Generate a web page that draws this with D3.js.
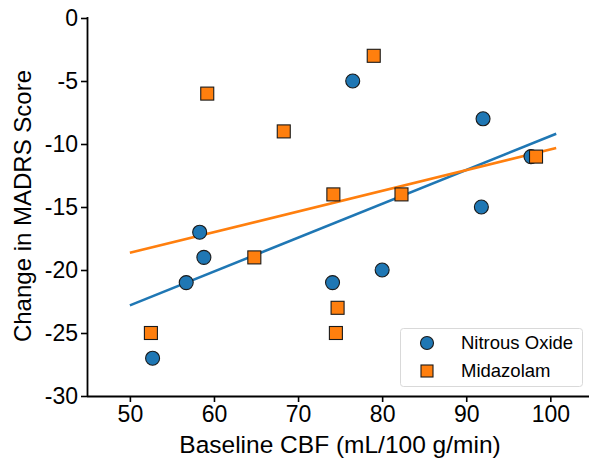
<!DOCTYPE html>
<html>
<head>
<meta charset="utf-8">
<script src="https://cdn.jsdelivr.net/npm/d3@7"></script>
<style>
  html, body { margin: 0; padding: 0; background: #fff; }
  svg { display: block; font-family: "Liberation Sans", Arial, sans-serif; }
</style>
</head>
<body>
<svg id="chart" width="589" height="458"></svg>
<script>
// Baseline CBF (mL/100 g/min) and change in MADRS score per participant
const nitrousCBF   = [52.7, 56.7, 58.3, 58.8, 74.1, 80.0, 76.5, 92.0, 91.8, 97.7];
const nitrousMADRS = [-27, -21, -17, -19, -21, -20, -5, -8, -15, -11];
const midazCBF     = [52.5, 59.2, 68.3, 64.8, 74.2, 79.0, 82.3, 98.3, 74.7, 74.5];
const midazMADRS   = [-25, -6, -9, -19, -14, -3, -14, -11, -23, -25];

const seriesNames = ["Nitrous Oxide", "Midazolam"];
const xTicks = [50, 60, 70, 80, 90, 100];
const yTicks = [0, -5, -10, -15, -20, -25, -30];
const fitRange = [50, 100.7];

const colors = ["#1f77b4", "#ff7f0e"];
const FONT = "Liberation Sans, Arial, sans-serif";

const svg = d3.select("#chart");
const x = d3.scaleLinear().domain([44.9, 104.6]).range([87, 589]);
const y = d3.scaleLinear().domain([-30, 0]).range([396, 18]);

// least-squares fit
function fit(xs, ys) {
  const mx = d3.mean(xs), my = d3.mean(ys);
  let sxy = 0, sxx = 0;
  xs.forEach((v, i) => { sxy += (v - mx) * (ys[i] - my); sxx += (v - mx) * (v - mx); });
  const b = sxy / sxx;
  return v => my + b * (v - mx);
}

const series = [
  { name: seriesNames[0], xs: nitrousCBF, ys: nitrousMADRS, color: colors[0], shape: "circle" },
  { name: seriesNames[1], xs: midazCBF, ys: midazMADRS, color: colors[1], shape: "square" }
];

// regression lines
series.forEach(s => {
  const f = fit(s.xs, s.ys);
  svg.append("path")
    .attr("d", d3.line()(fitRange.map(v => [x(v), y(f(v))])))
    .attr("stroke", s.color)
    .attr("stroke-width", 2.6)
    .attr("fill", "none");
});

// markers
function drawMarker(g, shape, cx, cy, color, size) {
  if (shape === "circle") {
    g.append("circle").attr("cx", cx).attr("cy", cy).attr("r", size / 2)
      .attr("fill", color).attr("stroke", "#1a1a1a").attr("stroke-width", 1.1);
  } else {
    const side = size - 1;
    g.append("rect").attr("x", cx - side / 2).attr("y", cy - side / 2)
      .attr("width", side).attr("height", side)
      .attr("fill", color).attr("stroke", "#1a1a1a").attr("stroke-width", 1.1);
  }
}

series.forEach(s => {
  const g = svg.append("g");
  s.xs.forEach((v, i) => drawMarker(g, s.shape, x(v), y(s.ys[i]), s.color, 14));
});

// axes
const xAxis = svg.append("g").attr("transform", "translate(0,396)")
  .call(d3.axisBottom(x).tickValues(xTicks).tickSize(6).tickPadding(4));
const yAxis = svg.append("g").attr("transform", "translate(87,0)")
  .call(d3.axisLeft(y).tickValues(yTicks).tickSize(6).tickPadding(3)
    .tickFormat(d => String(d)));

[xAxis, yAxis].forEach(a => {
  a.attr("font-size", 23).attr("font-family", FONT);
  a.select(".domain").attr("stroke", "#000").attr("stroke-width", 1.8);
  a.selectAll(".tick line").attr("stroke", "#000").attr("stroke-width", 1.6);
  a.selectAll(".tick text").attr("fill", "#000");
});
// axis spines without end caps
xAxis.select(".domain").attr("d", `M87,0.5H589`);
yAxis.select(".domain").attr("d", `M0.5,17V396`);

// axis titles
svg.append("text")
  .attr("x", 340).attr("y", 453)
  .attr("text-anchor", "middle")
  .attr("font-size", 24.5)
  .text("Baseline CBF (mL/100 g/min)");

svg.append("text")
  .attr("transform", "translate(31,206) rotate(-90)")
  .attr("text-anchor", "middle")
  .attr("font-size", 24)
  .text("Change in MADRS Score");

// legend
const legend = svg.append("g");
legend.append("rect")
  .attr("x", 400.5).attr("y", 328.5).attr("width", 182).attr("height", 58)
  .attr("rx", 3).attr("fill", "#fff").attr("fill-opacity", 0.8)
  .attr("stroke", "#d9d9d9").attr("stroke-width", 1);
series.forEach((s, i) => {
  const cy = 343 + i * 28;
  drawMarker(legend, s.shape, 427, cy, s.color, 13);
  legend.append("text")
    .attr("x", 461).attr("y", cy).attr("dy", "0.35em")
    .attr("font-size", 18.5)
    .text(s.name);
});
</script>
</body>
</html>
